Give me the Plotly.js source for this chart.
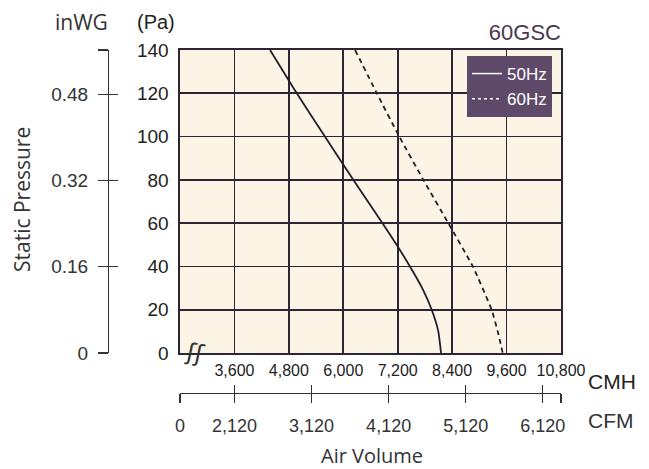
<!DOCTYPE html>
<html>
<head>
<meta charset="utf-8">
<script src="https://cdn.plot.ly/plotly-3.0.1.min.js"></script>
<style>html,body{margin:0;padding:0;background:#fff;}#chart{width:649px;height:469px;}</style>
</head>
<body>
<div id="chart"></div>
<script>
// ---- data ----
const pressure50 = [140, 120, 100, 80, 60, 50, 40, 30, 20, 10, 0];                    // Pa
const airflow50  = [4385, 4975, 5595, 6220, 6865, 7175, 7470, 7740, 7950, 8095, 8155]; // CMH
const pressure60 = [140, 120, 100, 80, 60, 40, 20, 10, 0];                             // Pa
const airflow60  = [6260, 6740, 7235, 7765, 8315, 8855, 9270, 9405, 9515];             // CMH
const seriesNames = ['50Hz', '60Hz'];

const cmhTicks  = [3600, 4800, 6000, 7200, 8400, 9600, 10800];
const paTicks   = [0, 20, 40, 60, 80, 100, 120, 140];
const inwgTicks = [0, 0.16, 0.32, 0.48];
const cfmTicks  = [2120, 3120, 4120, 5120, 6120];
const cmhRange  = [2400, 10800];
const paRange   = [0, 140];
const CMH_PER_CFM = 1.699;
const PA_PER_INWG = 249.09;

// ---- helpers for layout placement ----
const W = 649, H = 469;
const px = x => x / W;
const py = y => 1 - y / H;

const gridCol = '#2d2635';
const axisCol = '#333333';
const cfmRange = cmhRange.map(v => v / CMH_PER_CFM);
const inwgTop = paRange[1] / PA_PER_INWG;

const traces = [
  {x: airflow50, y: pressure50, type: 'scatter', mode: 'lines', name: seriesNames[0],
   line: {color: '#241d2c', width: 1.8, shape: 'spline', smoothing: 0.5}, showlegend: false, hoverinfo: 'skip'},
  {x: airflow60, y: pressure60, type: 'scatter', mode: 'lines', name: seriesNames[1],
   line: {color: '#241d2c', width: 1.8, dash: '5px,4px', shape: 'spline', smoothing: 0.5}, showlegend: false, hoverinfo: 'skip'},
  // legend entries (white samples on the purple box), also hold the secondary axes
  {x: [null], y: [null], type: 'scatter', mode: 'lines', name: seriesNames[0], xaxis: 'x2', yaxis: 'y2',
   line: {color: '#ffffff', width: 1.5}, hoverinfo: 'skip'},
  {x: [null], y: [null], type: 'scatter', mode: 'lines', name: seriesNames[1], xaxis: 'x3', yaxis: 'y3',
   line: {color: '#ffffff', width: 1.5, dash: '3px,3px'}, hoverinfo: 'skip'}
];

const ann = (text, x, y, size, family, color, extra) => Object.assign({
  text: text, xref: 'paper', yref: 'paper', x: px(x), y: py(y), xanchor: 'center', yanchor: 'middle',
  showarrow: false, font: {family: family, size: size, color: color}}, extra || {});

const SANS = 'Open Sans, sans-serif';
const ARIAL = 'Liberation Sans, Arial, sans-serif';

const layout = {
  width: W, height: H,
  margin: {l: 0, r: 0, t: 0, b: 0, pad: 0},
  paper_bgcolor: '#ffffff',
  plot_bgcolor: '#fcf4e4',
  title: {text: '60GSC', x: px(561), xanchor: 'right', y: py(32), yanchor: 'middle',
          font: {family: ARIAL, size: 22, color: '#4a3752'}},
  showlegend: true,
  legend: {x: px(552), xanchor: 'right', y: py(56), yanchor: 'top',
           bgcolor: '#5e4968', borderwidth: 0, itemwidth: 30,
           font: {family: ARIAL, size: 17, color: '#ffffff'},
           tracegroupgap: 0},
  xaxis: {domain: [px(180), px(561)], range: cmhRange, tickvals: cmhTicks, tickformat: ',',
          showgrid: true, gridcolor: gridCol, gridwidth: 1.6,
          showline: true, linecolor: gridCol, linewidth: 1.6, mirror: true,
          ticks: '', zeroline: false, anchor: 'y', ticklabelstandoff: 2,
          tickfont: {family: ARIAL, size: 16, color: '#222'}},
  yaxis: {domain: [py(353), py(50)], range: paRange, tickvals: paTicks,
          showgrid: true, gridcolor: gridCol, gridwidth: 1.6,
          showline: true, linecolor: gridCol, linewidth: 1.6, mirror: true,
          ticks: '', zeroline: false, anchor: 'x', ticklabelstandoff: 6,
          tickfont: {family: ARIAL, size: 19, color: '#222'}},
  // inWG scale (left)
  yaxis2: {overlaying: 'y', anchor: 'free', position: px(108), side: 'left', range: [0, inwgTop],
           tickvals: inwgTicks.concat([inwgTop]), ticktext: inwgTicks.map(String).concat(['']),
           ticks: 'outside', ticklen: 10, tickwidth: 1.3, tickcolor: axisCol,
           showline: true, linecolor: axisCol, linewidth: 1.3, showgrid: false, zeroline: false,
           ticklabelstandoff: 6,
           tickfont: {family: ARIAL, size: 19, color: '#333'}},
  yaxis3: {overlaying: 'y', anchor: 'free', position: px(108), side: 'left', range: [0, inwgTop],
           tickvals: inwgTicks.concat([inwgTop]), showticklabels: false,
           ticks: 'inside', ticklen: 9, tickwidth: 1.3, tickcolor: axisCol,
           showline: false, showgrid: false, zeroline: false},
  // CFM scale (bottom)
  xaxis2: {overlaying: 'x', anchor: 'free', position: py(393), side: 'bottom', range: cfmRange,
           tickvals: [cfmRange[0]].concat(cfmTicks, [cfmRange[1]]),
           ticktext: ['0'].concat(cfmTicks.map(v => v.toLocaleString('en-US')), ['']),
           ticks: 'outside', ticklen: 9, tickwidth: 1.3, tickcolor: axisCol,
           showline: true, linecolor: axisCol, linewidth: 1.3, showgrid: false, zeroline: false,
           ticklabelstandoff: 7,
           tickfont: {family: ARIAL, size: 18, color: '#333'}},
  xaxis3: {overlaying: 'x', anchor: 'free', position: py(393), side: 'bottom', range: cfmRange,
           tickvals: [cfmRange[0]].concat(cfmTicks, [cfmRange[1]]), showticklabels: false,
           ticks: 'inside', ticklen: 8, tickwidth: 1.3, tickcolor: axisCol,
           showline: false, showgrid: false, zeroline: false},
  annotations: [
    ann('inWG', 81, 22, 21, SANS, '#333'),
    ann('(Pa)', 156, 22, 20, ARIAL, '#222'),
    ann('Static Pressure', 22, 200, 21, SANS, '#333', {textangle: -90}),
    ann('Air Volume', 372, 455, 20, SANS, '#333'),
    ann('CMH', 586, 381, 21, ARIAL, '#222', {xanchor: 'left'}),
    ann('CFM', 586, 420, 21, ARIAL, '#333', {xanchor: 'left'}),
    ann('ʃʃ', 195, 353, 24, 'DejaVu Sans, sans-serif', '#333', {textangle: 12})
  ]
};

Plotly.newPlot('chart', traces, layout, {staticPlot: true, displayModeBar: false});
</script>
</body>
</html>
